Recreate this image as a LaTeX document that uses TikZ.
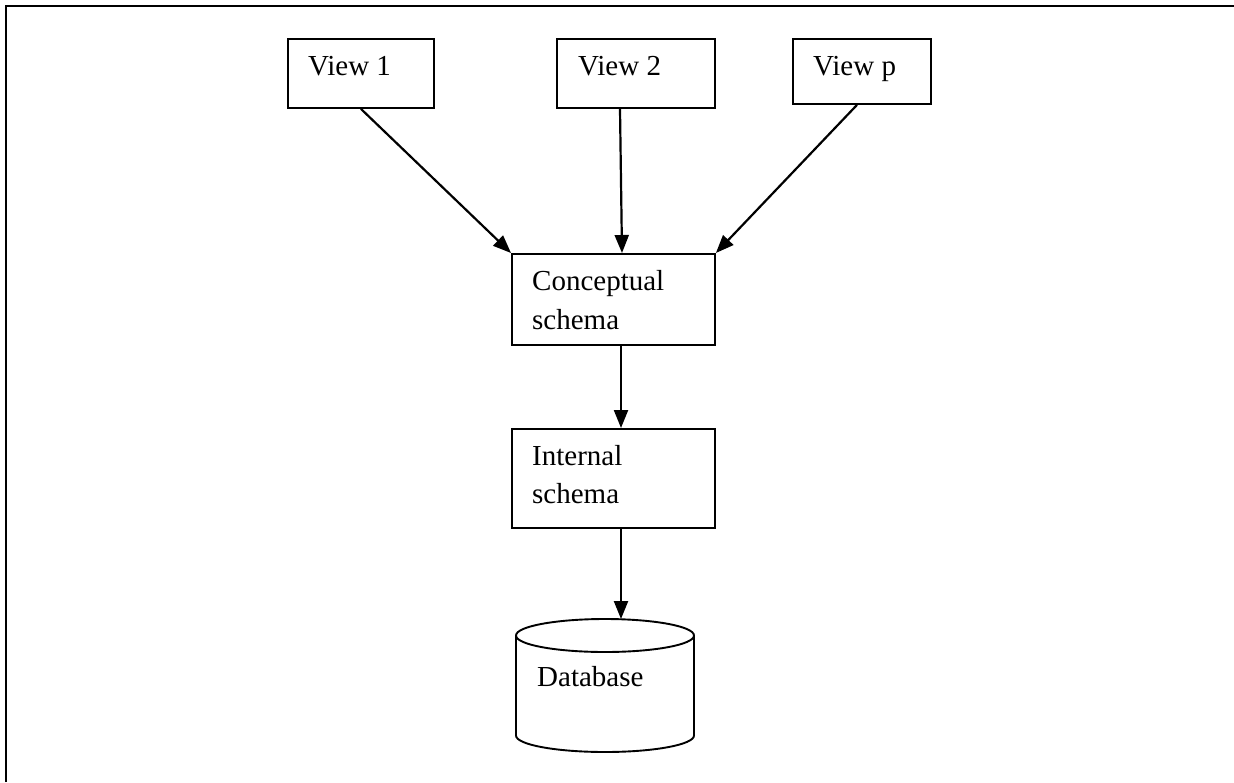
\documentclass[tikz,border=0pt]{standalone}
\usepackage{fontspec}
\setmainfont{Liberation Serif}
\usetikzlibrary{arrows.meta,calc}
\begin{document}
\begin{tikzpicture}[x=1pt,y=-1pt,
  box/.style={draw,line width=1.9pt,inner sep=0pt,anchor=north west},
  lbl/.style={anchor=base west,inner sep=0pt,font=\fontsize{29}{37}\selectfont},
  flow/.style={line width=2.2pt,-{Triangle[length=18pt,width=14pt]}}]
\useasboundingbox (0,0) rectangle (1234,782);
% page frame (top and left rules)
\draw[line width=2.6pt] (6,782) -- (6,6) -- (1234,6);

% view boxes
\node[box,minimum width=146pt,minimum height=69pt] (v1) at (287,38) {};
\node[lbl] (v1t) at (308,75) {View 1};
\node[box,minimum width=158pt,minimum height=69pt] (v2) at (556,38) {};
\node[lbl] (v2t) at (578,75) {View 2};
\node[box,minimum width=138pt,minimum height=65pt] (vp) at (792,38) {};
\node[lbl] (vpt) at (813,75) {View p};

% schema boxes
\node[box,minimum width=203pt,minimum height=91pt] (cs) at (511,253) {};
\node[lbl] (cst1) at (532,290) {Conceptual};
\node[lbl] (cst2) at (532,329) {schema};
\node[box,minimum width=203pt,minimum height=99pt] (is) at (511,428) {};
\node[lbl] (ist1) at (532,465) {Internal};
\node[lbl] (ist2) at (532,503) {schema};

% database cylinder
\node[inner sep=0pt,minimum width=178pt,minimum height=133pt,anchor=north west] (db) at (516,619) {};
\draw[line width=1.9pt] (605,635.5) ellipse [x radius=89pt,y radius=16.5pt];
\draw[line width=1.9pt] (516,635.5) -- (516,735.5) arc[start angle=180,end angle=360,x radius=89pt,y radius=16.5pt] -- (694,635.5);
\node[lbl] (dbt) at (537,686) {Database};

% connectors
\draw[flow] (v1.south) -- (cs.north west);
\draw[flow] ($(v2.south west)+(64,0)$) -- ($(cs.north west)+(111,0)$);
\draw[flow] ($(vp.south west)+(65,0)$) -- (cs.north east);
\draw[flow] ($(cs.south west)+(110,0)$) -- ($(is.north west)+(110,0)$);
\draw[flow] ($(is.south west)+(110,0)$) -- ($(db.north west)+(105,0)$);
\end{tikzpicture}
\end{document}
